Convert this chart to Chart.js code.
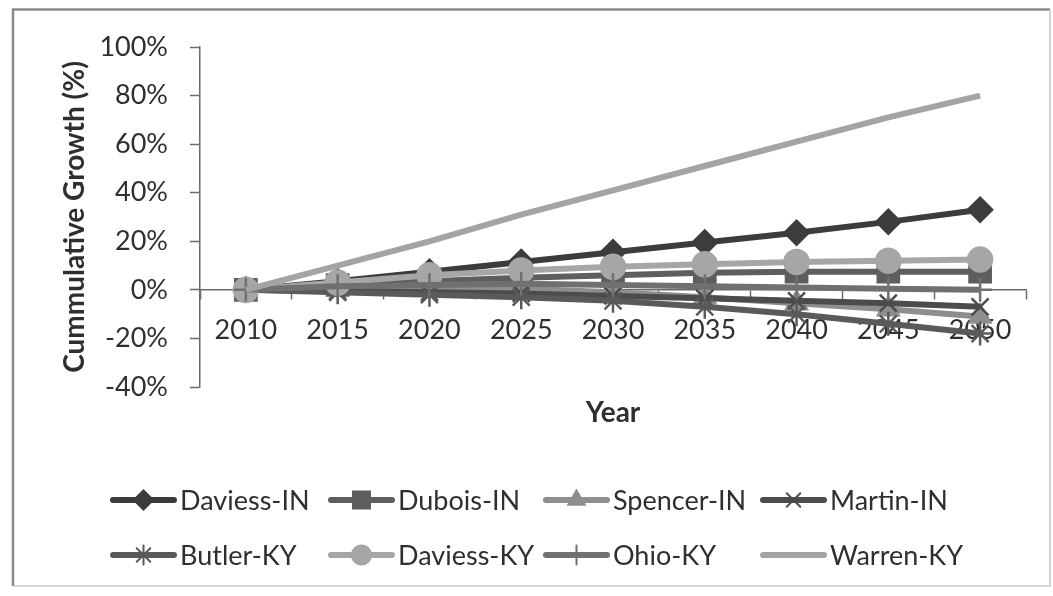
<!DOCTYPE html>
<html>
<head>
<meta charset="utf-8">
<script src="https://cdn.jsdelivr.net/npm/chart.js@4/dist/chart.umd.min.js"></script>
<style>
  html, body { margin: 0; padding: 0; background: #fff; }
  #wrap { width: 1053px; height: 596px; position: relative; }
</style>
</head>
<body>
<div id="wrap"><canvas id="growth" width="1053" height="596"></canvas></div>
<script>
// Projected cumulative population growth since 2010, by county (%)
const years = ['2010', '2015', '2020', '2025', '2030', '2035', '2040', '2045', '2050'];

const daviessIN = [0, 3.5, 7.5, 11.5, 15.5, 19.5, 23.5, 28, 33];
const duboisIN  = [0, 2, 3.5, 5, 6, 7, 7.5, 7.5, 7.5];
const spencerIN = [0, 1, 1, 0.5, -1, -3, -5.5, -8, -11];
const martinIN  = [0, -0.5, -1, -1.5, -2.5, -3.5, -4.5, -5.5, -7];
const butlerKY  = [0, -1, -2, -3, -4.5, -7, -10, -14, -18];
const daviessKY = [0, 3, 6, 8, 9.5, 10.5, 11.5, 12, 12.5];
const ohioKY    = [0, 1.5, 2, 2.5, 2, 1.5, 1, 0.5, 0];
const warrenKY  = [0, 10, 20, 31, 41, 51, 61, 71, 80];

const seriesNames = ['Daviess-IN', 'Dubois-IN', 'Spencer-IN', 'Martin-IN',
                     'Butler-KY', 'Daviess-KY', 'Ohio-KY', 'Warren-KY'];
const yTickStep = 20;
const yMin = -40, yMax = 100;

const FONT = 'Lato, "Open Sans", "DejaVu Sans", sans-serif';
const TEXT = '#2f2f2f';
const AXIS = '#6a6a6a';

function series(i, data, color, pointStyle, radius) {
  return {
    label: seriesNames[i],
    data,
    borderColor: color,
    backgroundColor: color,
    pointBackgroundColor: color,
    pointBorderColor: color,
    pointStyle,
    pointRadius: radius,
    pointHoverRadius: radius,
    pointBorderWidth: 2.5,
    borderWidth: 6,
    tension: 0,
    fill: false,
    order: 7 - i,   // later series are painted over earlier ones
    clip: false
  };
}

const datasets = [
  series(0, daviessIN, '#3c3c3c', 'rectRot', 12),
  series(1, duboisIN,  '#5e5e5e', 'rect', 15),
  series(2, spencerIN, '#8e8e8e', 'triangle', 12),
  series(3, martinIN,  '#4c4c4c', 'crossRot', 12),
  series(4, butlerKY,  '#5a5a5a', 'star', 12),
  series(5, daviessKY, '#a6a6a6', 'circle', 12),
  series(6, ohioKY,    '#707070', 'cross', 12),
  series(7, warrenKY,  '#a4a4a4', false, 0)
];

// Frame round the whole figure
const framePlugin = {
  id: 'frame',
  beforeDraw(chart) {
    const ctx = chart.ctx;
    ctx.save();
    ctx.fillStyle = '#fff';
    ctx.fillRect(0, 0, chart.width, chart.height);
    ctx.strokeStyle = '#8a8a8a';
    ctx.lineWidth = 2.5;
    ctx.beginPath();
    ctx.moveTo(13, 586); ctx.lineTo(13, 9.5); ctx.lineTo(1050, 9.5);
    ctx.stroke();
    ctx.strokeStyle = '#c8c8c8';
    ctx.lineWidth = 1.5;
    ctx.beginPath();
    ctx.moveTo(1050, 9.5); ctx.lineTo(1050, 586); ctx.lineTo(13, 586);
    ctx.stroke();
    ctx.restore();
  }
};

// Two-row legend laid out in fixed columns under the plot
const gridLegend = {
  id: 'gridLegend',
  afterDraw(chart) {
    const ctx = chart.ctx;
    const colX = [110, 328, 543, 760];
    const rowY = [500, 555];
    const sample = 67;
    ctx.save();
    chart.data.datasets.forEach((ds, i) => {
      const x0 = colX[i % 4];
      const y = rowY[Math.floor(i / 4)];
      ctx.strokeStyle = ds.borderColor;
      ctx.lineWidth = ds.borderWidth;
      ctx.lineCap = 'round';
      ctx.beginPath();
      ctx.moveTo(x0 + 3, y);
      ctx.lineTo(x0 + sample - 3, y);
      ctx.stroke();
      if (ds.pointStyle && ds.pointRadius > 0) {
        ctx.fillStyle = ds.pointBackgroundColor;
        ctx.strokeStyle = ds.pointBorderColor;
        ctx.lineWidth = 2;
        Chart.helpers.drawPoint(ctx, {
          pointStyle: ds.pointStyle,
          radius: ds.pointRadius * 0.8,
          rotation: 0,
          borderWidth: 2
        }, x0 + sample / 2, y);
      }
      ctx.fillStyle = TEXT;
      ctx.font = '27px ' + FONT;
      ctx.textBaseline = 'middle';
      ctx.textAlign = 'left';
      ctx.fillText(ds.label, x0 + sample + 3, y + 1);
    });
    ctx.restore();
  }
};

new Chart(document.getElementById('growth'), {
  type: 'line',
  data: { labels: years, datasets },
  plugins: [framePlugin, gridLegend],
  options: {
    responsive: false,
    animation: false,
    devicePixelRatio: 1,
    layout: { padding: { left: 0, top: 47, right: 27, bottom: 209 } },
    plugins: {
      legend: { display: false },
      tooltip: { enabled: false }
    },
    scales: {
      x: {
        position: { y: 0 },
        offset: true,
        grid: { offset: true, drawOnChartArea: false, drawTicks: true, tickLength: 9, color: AXIS, tickWidth: 1.5 },
        border: { display: true, color: AXIS, width: 1.5 },
        ticks: { color: TEXT, font: { family: FONT, size: 27 }, padding: 15, maxRotation: 0, autoSkip: false },
        title: { display: true, text: 'Year', color: TEXT, font: { family: FONT, size: 28, weight: 'bold' }, padding: { top: 0, bottom: 0 } },
        afterFit(scale) { scale.height = 140; }
      },
      y: {
        min: yMin,
        max: yMax,
        ticks: { stepSize: yTickStep, callback: v => v + '%', color: TEXT, font: { family: FONT, size: 27 }, padding: 22 },
        grid: { drawOnChartArea: false, drawTicks: true, tickLength: 10, color: AXIS, tickWidth: 1.5 },
        border: { display: true, color: AXIS, width: 1.5 },
        title: { display: true, text: 'Cummulative Growth (%)', color: TEXT, font: { family: FONT, size: 28, weight: 'bold' }, padding: { top: 58, bottom: 0 } },
        afterFit(scale) { scale.width = 200; }
      }
    }
  }
});
</script>
</body>
</html>
